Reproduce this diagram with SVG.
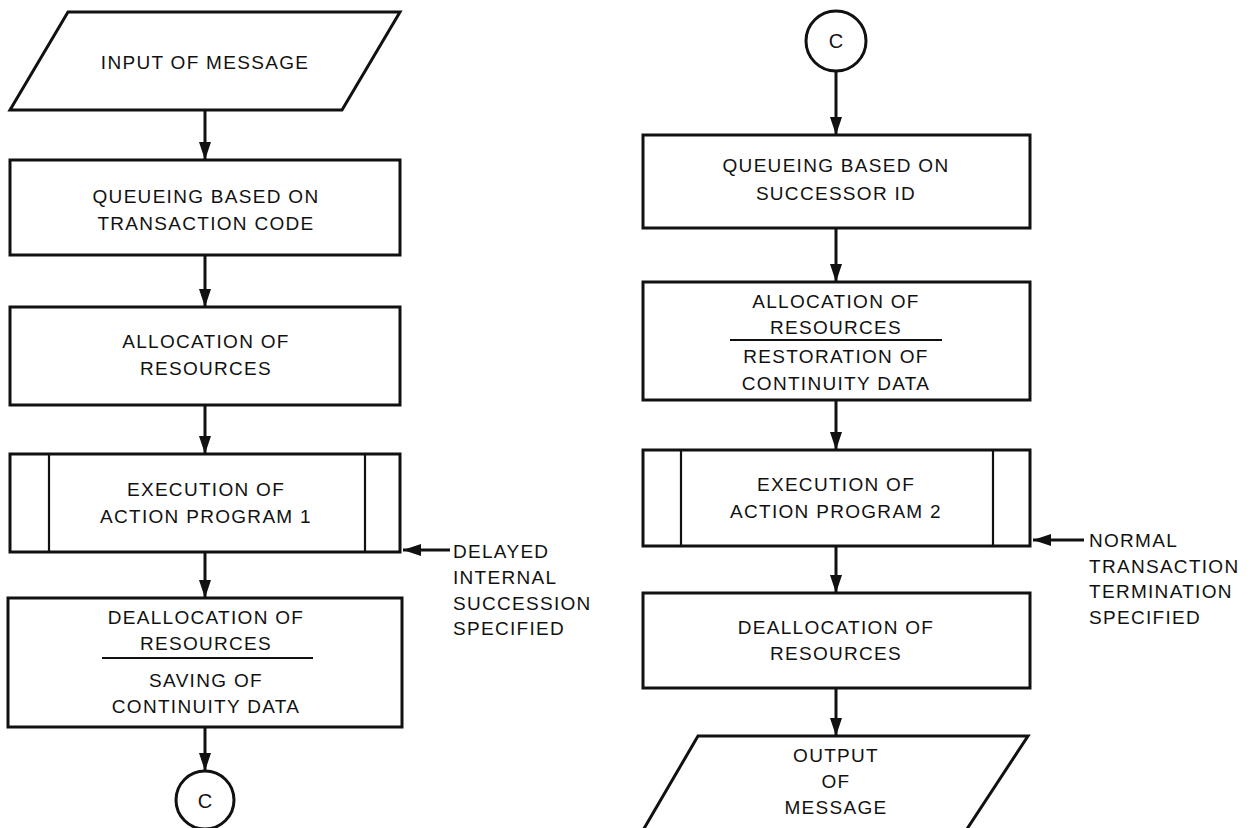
<svg xmlns="http://www.w3.org/2000/svg" width="1250" height="828" viewBox="0 0 1250 828">
  <defs>
    <marker id="arrow" viewBox="0 0 18 14" refX="18" refY="7" markerWidth="18" markerHeight="14" markerUnits="userSpaceOnUse" orient="auto">
      <path d="M0,1 L18,7 L0,13 Z" fill="#111"/>
    </marker>
    <style>
      .shape { fill: #fff; stroke: #111; stroke-width: 3; }
      .rule { stroke: #111; stroke-width: 2.2; }
      .conn { stroke: #111; stroke-width: 3; fill: none; marker-end: url(#arrow); }
      text { font-family: "Liberation Sans", Arial, sans-serif; font-size: 19px; fill: #111; letter-spacing: 1.3px; }
      .c { text-anchor: middle; dominant-baseline: central; }
      .l { text-anchor: start; dominant-baseline: central; }
      .big { font-size: 20px; letter-spacing: 0; }
    </style>
  </defs>
  <rect width="1250" height="828" fill="#fff"/>

  <!-- left column -->
  <g id="input-message">
    <polygon class="shape" points="68,12 400,12 342,110 10,110"/>
    <text class="c" x="205" y="62">INPUT OF MESSAGE</text>
  </g>
  <g id="queue-trans-code">
    <rect class="shape" x="10" y="160" width="390" height="95"/>
    <text class="c" x="206" y="196">QUEUEING BASED ON</text>
    <text class="c" x="206" y="223">TRANSACTION CODE</text>
  </g>
  <g id="alloc-1">
    <rect class="shape" x="10" y="307" width="390" height="98"/>
    <text class="c" x="206" y="341">ALLOCATION OF</text>
    <text class="c" x="206" y="368">RESOURCES</text>
  </g>
  <g id="exec-1">
    <rect class="shape" x="10" y="454" width="390" height="98"/>
    <line class="rule" x1="49" y1="454" x2="49" y2="552"/>
    <line class="rule" x1="365" y1="454" x2="365" y2="552"/>
    <text class="c" x="206" y="489">EXECUTION OF</text>
    <text class="c" x="206" y="516">ACTION PROGRAM 1</text>
  </g>
  <g id="dealloc-1">
    <rect class="shape" x="8" y="598" width="394" height="129"/>
    <text class="c" x="206" y="617">DEALLOCATION OF</text>
    <text class="c" x="206" y="643">RESOURCES</text>
    <line class="rule" x1="102" y1="658" x2="313" y2="658"/>
    <text class="c" x="206" y="680">SAVING OF</text>
    <text class="c" x="206" y="706">CONTINUITY DATA</text>
  </g>
  <g id="connector-out">
    <circle class="shape" cx="205" cy="800" r="29"/>
    <text class="c big" x="205" y="801">C</text>
  </g>
  <g id="note-delayed">
    <text class="l" x="453" y="551">DELAYED</text>
    <text class="l" x="453" y="577">INTERNAL</text>
    <text class="l" x="453" y="603">SUCCESSION</text>
    <text class="l" x="453" y="628">SPECIFIED</text>
  </g>

  <!-- right column -->
  <g id="connector-in">
    <circle class="shape" cx="836" cy="41" r="30"/>
    <text class="c big" x="836" y="41">C</text>
  </g>
  <g id="queue-successor">
    <rect class="shape" x="643" y="135" width="387" height="93"/>
    <text class="c" x="836" y="165">QUEUEING BASED ON</text>
    <text class="c" x="836" y="193">SUCCESSOR ID</text>
  </g>
  <g id="alloc-2">
    <rect class="shape" x="643" y="282" width="387" height="118"/>
    <text class="c" x="836" y="301">ALLOCATION OF</text>
    <text class="c" x="836" y="327">RESOURCES</text>
    <line class="rule" x1="730" y1="340" x2="942" y2="340"/>
    <text class="c" x="836" y="356">RESTORATION OF</text>
    <text class="c" x="836" y="383">CONTINUITY DATA</text>
  </g>
  <g id="exec-2">
    <rect class="shape" x="643" y="450" width="387" height="96"/>
    <line class="rule" x1="681" y1="450" x2="681" y2="546"/>
    <line class="rule" x1="993" y1="450" x2="993" y2="546"/>
    <text class="c" x="836" y="484">EXECUTION OF</text>
    <text class="c" x="836" y="511">ACTION PROGRAM 2</text>
  </g>
  <g id="dealloc-2">
    <rect class="shape" x="643" y="593" width="387" height="95"/>
    <text class="c" x="836" y="627">DEALLOCATION OF</text>
    <text class="c" x="836" y="653">RESOURCES</text>
  </g>
  <g id="output-message">
    <polygon class="shape" points="698,736 1028,736 965,832 642,832"/>
    <text class="c" x="836" y="755">OUTPUT</text>
    <text class="c" x="836" y="781">OF</text>
    <text class="c" x="836" y="807">MESSAGE</text>
  </g>
  <g id="note-normal">
    <text class="l" x="1089" y="540">NORMAL</text>
    <text class="l" x="1089" y="566">TRANSACTION</text>
    <text class="l" x="1089" y="591">TERMINATION</text>
    <text class="l" x="1089" y="617">SPECIFIED</text>
  </g>

  <!-- connectors -->
  <g id="connectors">
    <line class="conn" x1="205" y1="110" x2="205" y2="160"/>
    <line class="conn" x1="205" y1="255" x2="205" y2="307"/>
    <line class="conn" x1="205" y1="405" x2="205" y2="454"/>
    <line class="conn" x1="205" y1="552" x2="205" y2="598"/>
    <line class="conn" x1="205" y1="727" x2="205" y2="771"/>
    <line class="conn" x1="450" y1="550" x2="403" y2="550"/>
    <line class="conn" x1="836" y1="71" x2="836" y2="135"/>
    <line class="conn" x1="836" y1="228" x2="836" y2="282"/>
    <line class="conn" x1="836" y1="400" x2="836" y2="450"/>
    <line class="conn" x1="836" y1="546" x2="836" y2="593"/>
    <line class="conn" x1="836" y1="688" x2="836" y2="736"/>
    <line class="conn" x1="1084" y1="540" x2="1033" y2="540"/>
  </g>
</svg>
